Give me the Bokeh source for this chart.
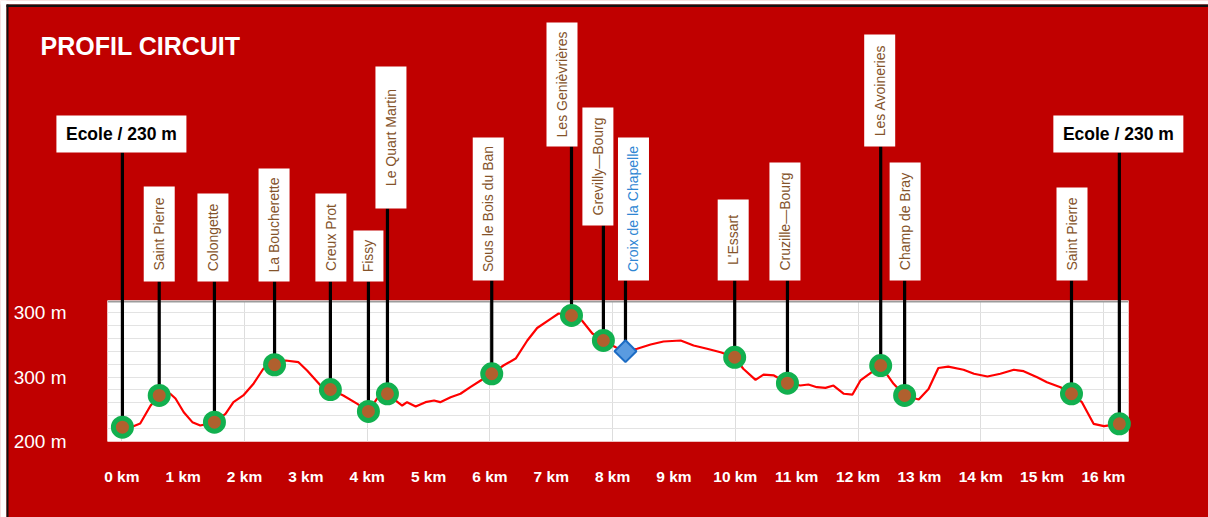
import math
from bokeh.plotting import figure
from bokeh.models import ColumnDataSource, FixedTicker, Range1d, Span
from bokeh.core.properties import value
from bokeh.embed import file_html
from bokeh.resources import INLINE

# ------------------------------------------------------------------ data
profile_km = [0.00, 0.19, 0.30, 0.47, 0.61, 0.79, 0.875, 1.01, 1.15, 1.28,
              1.51, 1.69, 1.82, 1.98, 2.15, 2.31, 2.49, 2.67, 2.88, 3.02,
              3.24, 3.40, 3.61, 3.84, 4.02, 4.16, 4.33, 4.46, 4.57, 4.65,
              4.79, 4.95, 5.09, 5.19, 5.36, 5.52, 5.68, 5.85, 6.03, 6.22,
              6.42, 6.61, 6.77, 6.99, 7.12, 7.33, 7.50, 7.67, 7.85, 8.05,
              8.21, 8.40, 8.62, 8.83, 9.11, 9.32, 9.54, 9.76, 9.99, 10.13,
              10.33, 10.46, 10.63, 10.85, 11.06, 11.19, 11.33, 11.47, 11.60, 11.77,
              11.91, 12.04, 12.37, 12.58, 12.76, 12.99, 13.15, 13.31, 13.47, 13.72,
              13.89, 14.11, 14.32, 14.54, 14.70, 14.92, 15.08, 15.30, 15.48, 15.65,
              15.84, 16.01, 16.26]
profile_m = [211.1, 211.9, 214.0, 227.9, 235.7, 237.0, 233.3, 222.7, 215.0, 212.4,
             215.0, 221.5, 230.5, 235.7, 245.0, 256.6, 259.5, 262.8, 261.5, 255.0,
             243.4, 240.3, 235.7, 229.2, 223.3, 233.3, 237.0, 231.8, 227.9, 230.5,
             227.1, 230.5, 231.8, 230.5, 234.3, 237.0, 242.1, 247.3, 252.5, 258.9,
             264.3, 278.3, 288.0, 295.1, 299.2, 297.7, 293.8, 283.7, 278.3, 273.1,
             270.0, 271.9, 275.2, 277.5, 278.3, 274.4, 271.9, 269.2, 265.3, 256.4,
             247.8, 251.9, 251.2, 245.2, 243.4, 244.2, 242.1, 241.6, 243.4, 237.0,
             236.4, 247.3, 258.9, 244.7, 235.7, 232.6, 240.7, 257.0, 258.1, 255.6,
             252.5, 250.4, 252.5, 255.6, 254.5, 249.8, 246.0, 242.1, 237.0, 230.5,
             213.7, 211.9, 213.7]

waypoint_names = ["Ecole / 230 m", "Saint Pierre", "Colongette", "La Boucherette",
                  "Creux Prot", "Fissy", "Le Quart Martin", "Sous le Bois du Ban",
                  "Les Genièvrières", "Grevilly\u2014Bourg", "Croix de la Chapelle",
                  "L'Essart", "Cruzille\u2014Bourg", "Les Avoineries", "Champ de Bray",
                  "Saint Pierre", "Ecole / 230 m"]
waypoint_km = [0.01, 0.61, 1.51, 2.49, 3.40, 4.02, 4.33, 6.03, 7.33, 7.85,
               8.21, 9.99, 10.85, 12.37, 12.76, 15.48, 16.26]
waypoint_m = [211.1, 235.7, 215.0, 259.5, 240.3, 223.3, 237.0, 252.5, 297.7, 278.3,
              270.0, 265.3, 245.2, 258.9, 235.7, 237.0, 213.7]
waypoint_kind = ["ecole", "lieu", "lieu", "lieu", "lieu", "lieu", "lieu", "lieu",
                 "lieu", "lieu", "croix", "lieu", "lieu", "lieu", "lieu", "lieu", "ecole"]

x_ticks = list(range(0, 17))
x_tick_labels = ["%d km" % k for k in x_ticks]
y_ticks = [200, 250, 300]
y_tick_labels = ["200 m", "300 m", "300 m"]
title_text = "PROFIL CIRCUIT"

# ------------------------------------------------------------------ layout (page pixels)
PAGE_OFF = 0
FIG_W, FIG_H = 1208, 517
FRAME_LEFT, FRAME_TOP, FRAME_W, FRAME_H = 107, 300, 1021, 141
KM0_PX, PX_PER_KM = 121.3, 61.35
PX_PER_M, M_BOTTOM = 1.29, 200

# label boxes: horizontal offset of box centre from its stem, box top, box bottom, box width
box_dx = [-1, 0, -1.5, -0.5, 0.5, 0, 3.5, -3.5, -9.5, -5.5, 8, -1.5, -2.5, -1, 0.5, 0.5, -1]
box_top = [115, 186, 193, 168, 193, 230, 66, 137, 22, 107, 137, 199, 162, 34, 162, 187, 115]
box_bot = [152, 281, 281, 281, 281, 281, 208, 280, 146, 225, 280, 280, 280, 146, 280, 280, 152]
box_w = [130, 31, 31, 31, 31, 30, 31, 31, 31, 31, 31, 31, 31, 31, 31, 31, 130]

x_start = (FRAME_LEFT - KM0_PX) / PX_PER_KM
x_end = x_start + FRAME_W / PX_PER_KM
y_end = M_BOTTOM + FRAME_H / PX_PER_M


def py_to_m(py):
    return M_BOTTOM + (FRAME_TOP + FRAME_H - py) / PX_PER_M


def px_to_km(px):
    return (px - KM0_PX) / PX_PER_KM


RED_BG = "#c00000"
BROWN_TXT = "#84532a"
BLUE_TXT = "#2f86d3"
SANS = "Liberation Sans"

p = figure(frame_width=FRAME_W, frame_height=FRAME_H,
           x_range=Range1d(x_start, x_end), y_range=Range1d(M_BOTTOM, y_end),
           output_backend="svg", toolbar_location=None,
           min_border_left=FRAME_LEFT - PAGE_OFF, min_border_top=FRAME_TOP - PAGE_OFF,
           min_border_right=PAGE_OFF + FIG_W - (FRAME_LEFT + FRAME_W),
           min_border_bottom=PAGE_OFF + FIG_H - (FRAME_TOP + FRAME_H))
p.background_fill_color = "white"
p.border_fill_color = RED_BG
p.outline_line_color = None

# grids
p.xgrid.ticker = FixedTicker(ticks=x_ticks[::2])
p.xgrid.grid_line_color = "#dddddd"
p.ygrid.ticker = FixedTicker(ticks=list(range(200, 320, 10)))
p.ygrid.grid_line_color = "#e3e3e3"
p.add_layout(Span(location=y_end - 1.0 / PX_PER_M, dimension="width",
                  line_color="#9c9c9c", line_width=2))

# axes
p.xaxis.ticker = FixedTicker(ticks=x_ticks)
p.xaxis.major_label_overrides = dict(zip(x_ticks, x_tick_labels))
p.yaxis.ticker = FixedTicker(ticks=y_ticks)
p.yaxis.major_label_overrides = dict(zip(y_ticks, y_tick_labels))
for ax in (p.xaxis, p.yaxis):
    ax.axis_line_color = None
    ax.major_tick_line_color = None
    ax.minor_tick_line_color = None
    ax.major_tick_out = 0
    ax.major_tick_in = 0
    ax.major_label_text_color = "white"
p.xaxis.major_label_text_font = SANS
p.xaxis.major_label_text_font_style = "bold"
p.xaxis.major_label_text_font_size = "15.5px"
p.xaxis.major_label_standoff = 26
p.yaxis.major_label_text_font = SANS
p.yaxis.major_label_text_font_size = "19px"
p.yaxis.major_label_standoff = 41

# outer frame of the picture (white margin and black edge, top and left)
p.quad(left=[px_to_km(0)], right=[px_to_km(FIG_W)], top=[py_to_m(0)], bottom=[py_to_m(4)],
       fill_color="white", line_color=None, level="overlay")
p.quad(left=[px_to_km(0)], right=[px_to_km(6)], top=[py_to_m(0)], bottom=[py_to_m(FIG_H)],
       fill_color="white", line_color=None, level="overlay")
p.quad(left=[px_to_km(6)], right=[px_to_km(FIG_W)], top=[py_to_m(4)], bottom=[py_to_m(6.5)],
       fill_color="#111111", line_color=None, level="overlay")
p.quad(left=[px_to_km(6)], right=[px_to_km(8)], top=[py_to_m(4)], bottom=[py_to_m(FIG_H)],
       fill_color="#111111", line_color=None, level="overlay")

# profile
p.line(profile_km, profile_m, line_color="#ff0000", line_width=2.2)

# stems, boxes and labels
n = len(waypoint_names)
box_x = [waypoint_km[i] + box_dx[i] / PX_PER_KM for i in range(n)]
box_yc = [py_to_m((box_top[i] + box_bot[i]) / 2.0) for i in range(n)]
box_h = [box_bot[i] - box_top[i] for i in range(n)]
stem_top = [py_to_m(box_bot[i]) for i in range(n)]

p.segment(x0=waypoint_km, y0=waypoint_m, x1=waypoint_km, y1=stem_top,
          line_color="black", line_width=3.2, level="overlay")
p.rect(x=box_x, y=box_yc, width=box_w, height=box_h, width_units="screen",
       height_units="screen", fill_color="white", line_color=None, level="overlay")

vert = [i for i in range(n) if waypoint_kind[i] != "ecole"]
horiz = [i for i in range(n) if waypoint_kind[i] == "ecole"]
vsrc = ColumnDataSource(dict(
    x=[box_x[i] for i in vert], y=[box_yc[i] for i in vert],
    t=[waypoint_names[i] for i in vert],
    c=[BLUE_TXT if waypoint_kind[i] == "croix" else BROWN_TXT for i in vert]))
p.text(x="x", y="y", text="t", source=vsrc, angle=math.pi / 2, text_color="c",
       text_align="center", text_baseline="middle", text_font=value(SANS),
       text_font_size=value("14px"), level="overlay")
hsrc = ColumnDataSource(dict(
    x=[box_x[i] for i in horiz], y=[box_yc[i] for i in horiz],
    t=[waypoint_names[i] for i in horiz]))
p.text(x="x", y="y", text="t", source=hsrc, text_color="black", text_align="center",
       text_baseline="middle", text_font=value(SANS), text_font_style="bold",
       text_font_size=value("17.5px"), level="overlay")

# markers
circ = [i for i in range(n) if waypoint_kind[i] != "croix"]
dia = [i for i in range(n) if waypoint_kind[i] == "croix"]
p.scatter([waypoint_km[i] for i in circ], [waypoint_m[i] for i in circ], marker="circle",
          size=18, fill_color="#b0602e", line_color="#12b04f", line_width=5, level="overlay")
p.scatter([waypoint_km[i] for i in dia], [waypoint_m[i] for i in dia], marker="square",
          angle=math.pi / 4, size=15.5, fill_color="#5a9be0", line_color="#1c6cc4",
          line_width=2, level="overlay")

# title
p.text(x=[px_to_km(40)], y=[py_to_m(45)], text=[title_text], text_color="white",
       text_align="left", text_baseline="middle", text_font=value(SANS),
       text_font_style="bold", text_font_size=value("25px"), level="overlay")

open("out.html", "w").write(file_html(p, INLINE))
